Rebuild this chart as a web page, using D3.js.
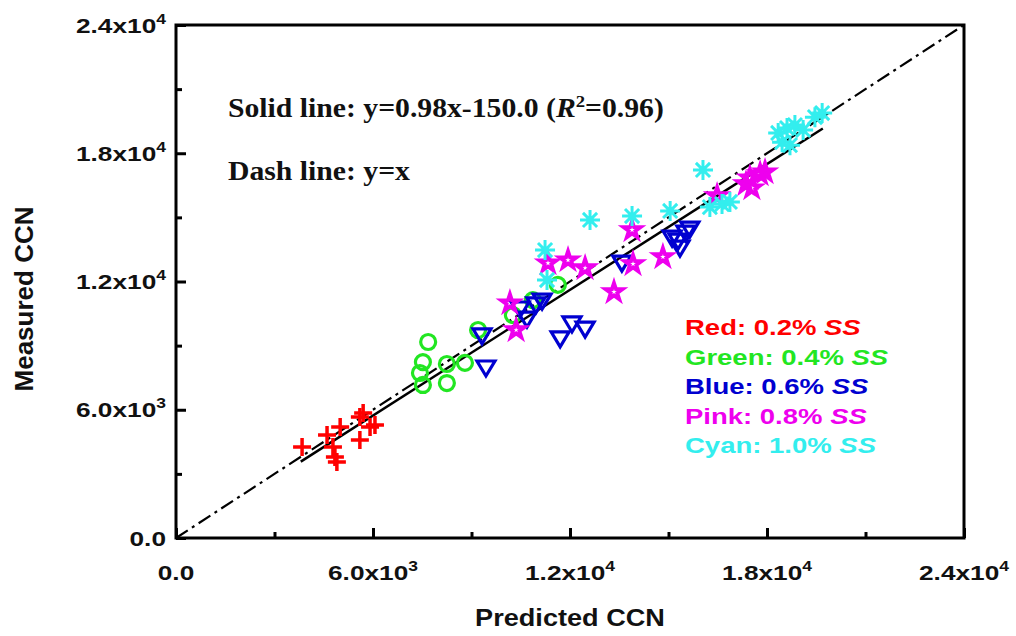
<!DOCTYPE html>
<html>
<head>
<meta charset="utf-8">
<script src="https://cdn.jsdelivr.net/npm/d3@7"></script>
<style>
  body { margin: 0; background: #fff; }
  svg { display: block; }
</style>
</head>
<body>
<svg id="chart" width="1016" height="636"></svg>
<script>
// Predicted vs measured CCN, one series per supersaturation
const redX   = [3840, 4600, 4780, 4840, 4900, 5000, 5600, 5700, 5910, 5600, 6060];
const redY   = [4260, 4820, 4260, 3790, 3560, 5190, 5660, 5850, 5190, 4580, 5290];

const greenX = [7680, 7520, 8250, 8800, 7430, 8250, 7520, 9200, 10260, 10870, 11630];
const greenY = [9170, 8230, 8140, 8190, 7720, 7250, 7160, 9730, 10430, 11130, 11840];

const blueX  = [9320, 9440, 10480, 10690, 10960, 11150, 11700, 12060, 12460, 13580, 15110, 15350, 15530, 15650, 15290];
const blueY  = [9500, 8000, 10760, 10290, 10950, 11130, 9360, 10060, 9820, 12910, 14080, 13610, 14310, 14500, 13940];

const pinkX  = [10170, 10360, 11330, 11940, 12460, 13340, 13890, 13920, 14830, 16480, 17360, 17480, 17790, 17540, 17940];
const pinkY  = [10990, 9730, 12860, 13000, 12630, 11510, 14410, 12820, 13150, 16000, 16560, 16840, 17030, 16370, 17120];

const cyanX  = [11240, 11300, 12610, 13890, 15050, 16050, 16260, 16630, 16870, 18340, 18460, 18610, 18850, 19100, 19460, 19680, 18700];
const cyanY  = [13470, 12070, 14880, 15060, 15300, 17220, 15480, 15620, 15720, 18950, 18520, 19180, 19320, 19090, 19690, 19880, 18380];

// Linear fit y = 0.98x - 150.0 over the span of the data, and the 1:1 line
const fitSlope = 0.98, fitIntercept = -150.0;
const fitRange = [3800, 19700];
const oneToOne = [0, 24000];

// Axis ticks
const majorTicks = [0, 6000, 12000, 18000, 24000];
const minorTicks = [3000, 9000, 15000, 21000];
const tickBase = ["0.0", "6.0x10", "1.2x10", "1.8x10", "2.4x10"];
const tickExp  = ["", "3", "4", "4", "4"];

const seriesNames = ["Red", "Green", "Blue", "Pink", "Cyan"];
const seriesSS    = ["0.2%", "0.4%", "0.6%", "0.8%", "1.0%"];
const seriesColor = ["#ff0000", "#22e622", "#0000d0", "#ee00ee", "#33eeee"];

const svg = d3.select("#chart");
const L = 176, R = 964, T = 25, B = 538;
const x = d3.scaleLinear().domain([0, 24000]).range([L, R]);
const y = d3.scaleLinear().domain([0, 24000]).range([B, T]);

const sans = "'Liberation Sans', Arial, sans-serif";
const serif = "'Liberation Serif', 'Times New Roman', serif";

// ---- ticks (inward, bottom and left) ----
function tickAxis(axisFn, scale, values, size, tr) {
  const g = svg.append("g").attr("transform", tr)
    .call(axisFn(scale).tickValues(values).tickSize(size).tickFormat(""));
  g.select(".domain").remove();
  g.selectAll(".tick line").attr("stroke", "#000").attr("stroke-width", 3);
}
tickAxis(d3.axisBottom, x, majorTicks, -10, `translate(0,${B})`);
tickAxis(d3.axisBottom, x, minorTicks, -6, `translate(0,${B})`);
tickAxis(d3.axisLeft, y, majorTicks, -10, `translate(${L},0)`);
tickAxis(d3.axisLeft, y, minorTicks, -6, `translate(${L},0)`);

// frame
svg.append("rect").attr("x", L).attr("y", T).attr("width", R - L).attr("height", B - T)
  .attr("fill", "none").attr("stroke", "#000").attr("stroke-width", 3);

// ---- tick labels ----
function sciLabel(px, py, anchor, i, sx) {
  const t = svg.append("text")
    .attr("transform", `translate(${px},${py}) scale(${sx},1)`)
    .attr("text-anchor", anchor)
    .attr("font-family", sans).attr("font-weight", "bold").attr("font-size", 21)
    .attr("fill", "#111");
  t.append("tspan").text(tickBase[i]);
  if (tickExp[i]) t.append("tspan").attr("dy", -9).attr("font-size", 14).text(tickExp[i]);
}
majorTicks.forEach((v, i) => sciLabel(x(v), 580, "middle", i, 1.25));
majorTicks.forEach((v, i) => sciLabel(166, y(v) + 7.5, "end", i, 1.25));

// axis titles
svg.append("text").attr("transform", `translate(570,626) scale(1.13,1)`)
  .attr("text-anchor", "middle").attr("font-family", sans).attr("font-weight", "bold")
  .attr("font-size", 24).attr("fill", "#111").text("Predicted CCN");
svg.append("text").attr("transform", `translate(33,299) rotate(-90)`)
  .attr("text-anchor", "middle").attr("font-family", sans).attr("font-weight", "bold")
  .attr("font-size", 26).attr("fill", "#111").text("Measured CCN");

// ---- reference lines ----
const line = d3.line().x(d => x(d[0])).y(d => y(d[1]));
svg.append("path").datum(oneToOne.map(v => [v, v])).attr("d", line)
  .attr("fill", "none").attr("stroke", "#000").attr("stroke-width", 2.2)
  .attr("stroke-dasharray", "14,5,3,5");
svg.append("path").datum(fitRange.map(v => [v, fitSlope * v + fitIntercept])).attr("d", line)
  .attr("fill", "none").attr("stroke", "#000").attr("stroke-width", 2.5);

// ---- markers ----
const plusPath = "M-9,0H9M0,-9V9";
const triPath = "M-9,-6L9,-6L0,9Z";
const astPath = d3.range(4).map(k => {
  const a = k * Math.PI / 4, dx = 10 * Math.cos(a), dy = 10 * Math.sin(a);
  return `M${-dx},${-dy}L${dx},${dy}`;
}).join("");
const starPath = d3.symbol(d3.symbolStar, 90)();

function drawSeries(xs, ys, color, shape, width) {
  svg.append("g").selectAll("path").data(xs.map((v, i) => [v, ys[i]])).join("path")
    .attr("transform", d => `translate(${x(d[0])},${y(d[1])})`)
    .attr("d", shape)
    .attr("fill", "none").attr("stroke", color).attr("stroke-width", width)
    .attr("stroke-linejoin", "miter");
}
drawSeries(redX, redY, seriesColor[0], plusPath, 3.5);
svg.append("g").selectAll("circle").data(greenX.map((v, i) => [v, greenY[i]])).join("circle")
  .attr("cx", d => x(d[0])).attr("cy", d => y(d[1])).attr("r", 7.5)
  .attr("fill", "none").attr("stroke", seriesColor[1]).attr("stroke-width", 3.2);
drawSeries(blueX, blueY, seriesColor[2], triPath, 3.2);
drawSeries(pinkX, pinkY, seriesColor[3], starPath, 3.8);
drawSeries(cyanX, cyanY, seriesColor[4], astPath, 3);

// ---- annotations ----
const ann1 = svg.append("text").attr("transform", "translate(228,117) scale(1.1,1)")
  .attr("font-family", serif).attr("font-weight", "bold").attr("font-size", 27).attr("fill", "#111");
ann1.append("tspan").text("Solid line: y=0.98x-150.0 (");
ann1.append("tspan").attr("font-style", "italic").text("R");
ann1.append("tspan").attr("dy", -10).attr("font-size", 17).text("2");
ann1.append("tspan").attr("dy", 10).text("=0.96)");
svg.append("text").attr("transform", "translate(228,180) scale(1.1,1)")
  .attr("font-family", serif).attr("font-weight", "bold").attr("font-size", 27).attr("fill", "#111")
  .text("Dash line: y=x");

// ---- legend ----
seriesNames.forEach((n, i) => {
  const t = svg.append("text").attr("transform", `translate(685,${335 + i * 29.5}) scale(1.25,1)`)
    .attr("font-family", sans).attr("font-weight", "bold").attr("font-size", 22)
    .attr("fill", seriesColor[i]);
  t.append("tspan").text(`${n}: ${seriesSS[i]} `);
  t.append("tspan").attr("font-style", "italic").text("SS");
});
</script>
</body>
</html>
